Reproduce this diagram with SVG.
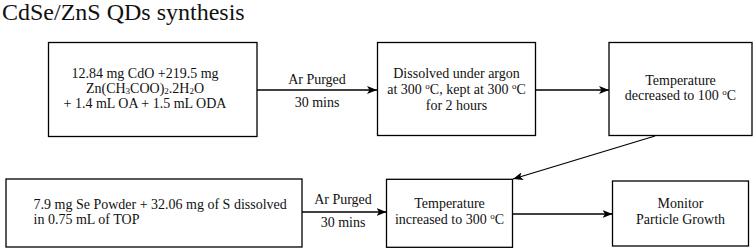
<svg xmlns="http://www.w3.org/2000/svg" width="754" height="250" viewBox="0 0 754 250" font-family="'Liberation Serif', 'Times New Roman', serif">
<defs>
<marker id="ah" markerUnits="userSpaceOnUse" markerWidth="11" markerHeight="8" refX="10" refY="4" orient="auto">
<path d="M0,0 L10,4 L0,8 L2.5,4 z" fill="#000"/>
</marker>
<style>
.box{fill:#fff;stroke:#000;stroke-width:1.3}
.t{font-size:14px;fill:#111}
.c{text-anchor:middle}
.con line{stroke:#000;stroke-width:1.3;marker-end:url(#ah)}
.sup{font-size:9px}
.sub{font-size:9px}
</style>
</defs>
<rect width="754" height="250" fill="#fff"/>
<text x="2" y="20" font-family="'Liberation Serif', 'Times New Roman', serif" font-size="24" fill="#111">CdSe/ZnS QDs synthesis</text>
<g id="n1" font-family="'Liberation Serif', 'Times New Roman', serif">
<rect class="box" x="48.5" y="42.5" width="208.5" height="94"/>
<text class="t c" x="145" y="78">12.84 mg CdO +219.5 mg</text>
<text class="t c" x="145" y="93">Zn(CH<tspan class="sub" dy="1">3</tspan><tspan dy="-1">COO)</tspan><tspan class="sub" dy="1">2</tspan><tspan dy="-1">.2H</tspan><tspan class="sub" dy="1">2</tspan><tspan dy="-1">O</tspan></text>
<text class="t c" x="145" y="108">+ 1.4 mL OA + 1.5 mL ODA</text>
</g>
<g id="n2" font-family="'Liberation Serif', 'Times New Roman', serif">
<rect class="box" x="377.5" y="42.5" width="158" height="93"/>
<text class="t c" x="456.5" y="77.5">Dissolved under argon</text>
<text class="t c" x="456.5" y="94">at 300 <tspan class="sup" dy="-5">o</tspan><tspan dy="5">C, kept at 300 </tspan><tspan class="sup" dy="-5">o</tspan><tspan dy="5">C</tspan></text>
<text class="t c" x="456.5" y="110">for 2 hours</text>
</g>
<g id="n3" font-family="'Liberation Serif', 'Times New Roman', serif">
<rect class="box" x="609" y="42.5" width="143" height="93"/>
<text class="t c" x="680.5" y="84.5">Temperature</text>
<text class="t c" x="680.5" y="100">decreased to 100 <tspan class="sup" dy="-5">o</tspan><tspan dy="5">C</tspan></text>
</g>
<g id="n4" font-family="'Liberation Serif', 'Times New Roman', serif">
<rect class="box" x="6" y="179" width="296" height="68"/>
<text class="t" x="33.5" y="209">7.9 mg Se Powder + 32.06 mg of S dissolved</text>
<text class="t" x="33.5" y="224">in 0.75 mL of TOP</text>
</g>
<g id="n5" font-family="'Liberation Serif', 'Times New Roman', serif">
<rect class="box" x="386.5" y="179.3" width="126" height="68"/>
<text class="t c" x="449.5" y="208">Temperature</text>
<text class="t c" x="449.5" y="223.5">increased to 300 <tspan class="sup" dy="-5">o</tspan><tspan dy="5">C</tspan></text>
</g>
<g id="n6" font-family="'Liberation Serif', 'Times New Roman', serif">
<rect class="box" x="612.5" y="181" width="136" height="65"/>
<text class="t c" x="680.5" y="208">Monitor</text>
<text class="t c" x="680.5" y="223.5">Particle Growth</text>
</g>
<g class="con" id="connectors">
<line x1="257" y1="90" x2="377" y2="90"/>
<line x1="535.5" y1="90" x2="609" y2="90"/>
<line x1="655" y1="136" x2="513" y2="179"/>
<line x1="302" y1="212" x2="386.5" y2="212"/>
<line x1="512.5" y1="214" x2="612.5" y2="214"/>
</g>
<g id="labels" font-family="'Liberation Serif', 'Times New Roman', serif">
<text class="t c" x="317" y="84">Ar Purged</text>
<text class="t c" x="317" y="107">30 mins</text>
<text class="t c" x="343" y="203.5">Ar Purged</text>
<text class="t c" x="343" y="227">30 mins</text>
</g>
</svg>
